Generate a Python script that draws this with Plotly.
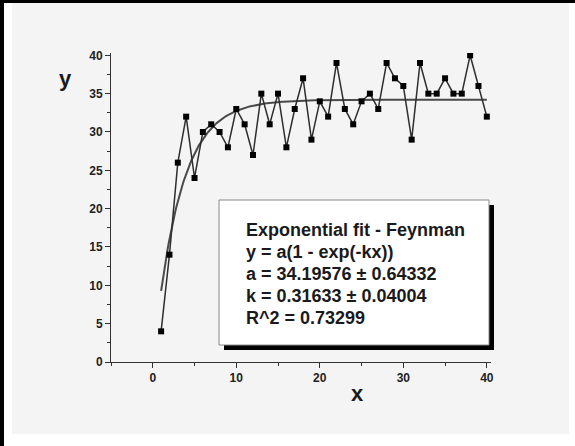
import numpy as np
import plotly.graph_objects as go

# Measured data
x_vals = list(range(1, 41))
y_vals = [4, 14, 26, 32, 24, 30, 31, 30, 28, 33,
          31, 27, 35, 31, 35, 28, 33, 37, 29, 34,
          32, 39, 33, 31, 34, 35, 33, 39, 37, 36,
          29, 39, 35, 35, 37, 35, 35, 40, 36, 32]

# Fitted model parameters: y = a(1 - exp(-kx))
fit_a = 34.19576
fit_a_err = 0.64332
fit_k = 0.31633
fit_k_err = 0.04004
fit_r2 = 0.73299

fit_lines = [
    "Exponential fit - Feynman",
    "y = a(1 - exp(-kx))",
    f"a = {fit_a:.5f} \u00b1 {fit_a_err:.5f}",
    f"k = {fit_k:.5f} \u00b1 {fit_k_err:.5f}",
    f"R^2 = {fit_r2:.5f}",
]

W, H = 575, 446
ML, MR, MT, MB = 111, 84, 53, 84
PW, PH = W - ML - MR, H - MT - MB


def px(xp):
    return (xp - ML) / PW


def py(yp):
    return (H - MB - yp) / PH


xf = np.linspace(1, 40, 300)
yf = fit_a * (1 - np.exp(-fit_k * xf))

FONT = "Liberation Sans, Arial, sans-serif"

fig = go.Figure()
fig.add_trace(go.Scatter(
    x=xf, y=yf, mode="lines",
    line=dict(color="#4a4a4a", width=2),
    hoverinfo="skip", showlegend=False,
))
fig.add_trace(go.Scatter(
    x=x_vals, y=y_vals, mode="lines+markers",
    line=dict(color="#2e2e2e", width=1.5),
    marker=dict(symbol="square", size=6, color="#000000"),
    showlegend=False,
))

shapes = [
    # light panel behind the whole chart
    dict(type="rect", xref="paper", yref="paper", layer="below",
         x0=px(12), x1=px(569), y0=py(434), y1=py(3),
         fillcolor="#f4f4f4", line=dict(width=0)),
    # frame edges
    dict(type="rect", xref="paper", yref="paper",
         x0=px(0), x1=px(4), y0=py(446), y1=py(0),
         fillcolor="#000000", line=dict(width=0)),
    dict(type="rect", xref="paper", yref="paper",
         x0=px(0), x1=px(575), y0=py(3), y1=py(0),
         fillcolor="#000000", line=dict(width=0)),
    # text box shadow and box
    dict(type="rect", xref="paper", yref="paper",
         x0=px(224), x1=px(494), y0=py(350), y1=py(205),
         fillcolor="#000000", line=dict(width=0)),
    dict(type="rect", xref="paper", yref="paper",
         x0=px(219), x1=px(489), y0=py(345), y1=py(200),
         fillcolor="#ffffff", line=dict(color="#8a8a8a", width=1)),
]

annotations = []
line_centers = [229.5, 251.7, 273.5, 296, 318]
for txt, yc in zip(fit_lines, line_centers):
    annotations.append(dict(
        text=f"<b>{txt}</b>", xref="paper", yref="paper",
        x=px(244), y=py(yc), xanchor="left", yanchor="middle",
        showarrow=False, font=dict(family=FONT, size=18, color="#1a1a1a"),
    ))

annotations.append(dict(
    text="<b>y</b>", xref="paper", yref="paper", x=px(65), y=py(78),
    xanchor="center", yanchor="middle", showarrow=False,
    font=dict(family=FONT, size=22, color="#1a1a1a"),
))
annotations.append(dict(
    text="<b>x</b>", xref="paper", yref="paper", x=px(357), y=py(393),
    xanchor="center", yanchor="middle", showarrow=False,
    font=dict(family=FONT, size=22, color="#1a1a1a"),
))

axis_common = dict(
    showgrid=False, zeroline=False, showline=True,
    linecolor="#333333", linewidth=1,
    ticks="outside", ticklen=5, tickwidth=1, tickcolor="#333333",
    tickfont=dict(family=FONT, size=12, color="#222222"),
    tickprefix="<b>", ticksuffix="</b>",
)

fig.update_layout(
    width=W, height=H,
    margin=dict(l=ML, r=MR, t=MT, b=MB),
    paper_bgcolor="#ffffff", plot_bgcolor="rgba(0,0,0,0)",
    xaxis=dict(range=[-5, 40.5], tick0=0, dtick=10,
               minor=dict(ticks="outside", ticklen=3, dtick=5, tick0=0,
                          tickcolor="#333333"),
               **axis_common),
    yaxis=dict(range=[0, 40.3], tick0=0, dtick=5,
               minor=dict(ticks="outside", ticklen=3, dtick=2.5, tick0=0,
                          tickcolor="#333333"),
               **axis_common),
    shapes=shapes,
    annotations=annotations,
)

fig.write_html("out.html")
